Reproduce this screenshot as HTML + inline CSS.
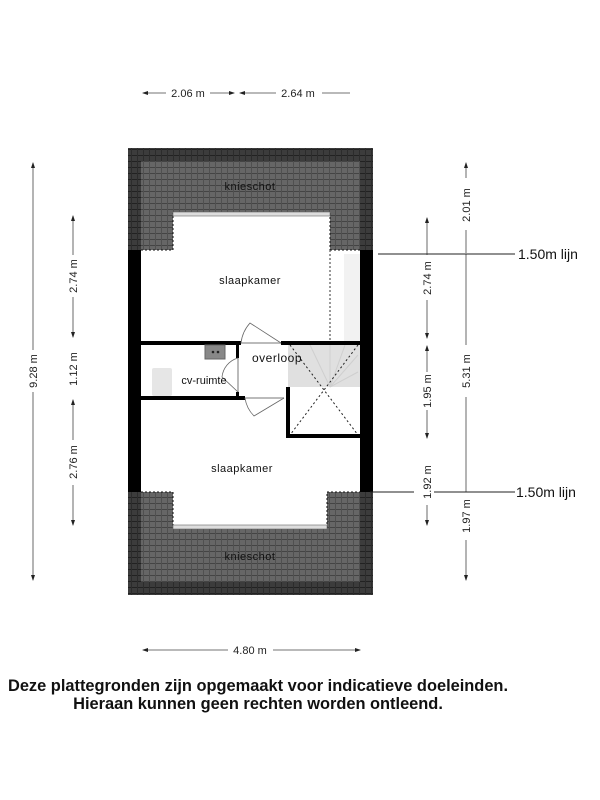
<!DOCTYPE html>
<html><head><meta charset="utf-8"><style>
html,body{margin:0;padding:0;background:#fff;width:600px;height:800px;overflow:hidden}
svg{display:block}
text{font-family:"Liberation Sans",sans-serif}
</style></head><body>
<svg width="600" height="800" viewBox="0 0 600 800" xmlns="http://www.w3.org/2000/svg">
<defs>
<pattern id="tile" width="6" height="6" patternUnits="userSpaceOnUse">
<rect width="6" height="6" fill="#666"/>
<rect x="0" y="5" width="6" height="1" fill="#444"/>
<rect x="5" y="0" width="1" height="6" fill="#505050"/>
</pattern>
<pattern id="tiled" width="6" height="6" patternUnits="userSpaceOnUse">
<rect width="6" height="6" fill="#3c3c3c"/>
<rect x="0" y="5" width="6" height="1" fill="#222"/>
<rect x="5" y="0" width="1" height="6" fill="#2c2c2c"/>
</pattern>
<marker id="ar" markerWidth="6" markerHeight="6" refX="5" refY="3" orient="auto-start-reverse" markerUnits="userSpaceOnUse">
<path d="M0,1 L6,3 L0,5 z" fill="#222"/>
</marker>
</defs>

<path d="M128,148 H373 V250 H330 V213 H173 V250 H128 Z" fill="url(#tiled)"/>
<path d="M141,161 H360 V250 H330 V213 H173 V250 H141 Z" fill="url(#tile)"/>
<path d="M128,492 H173 V528 H327 V492 H373 V595 H128 Z" fill="url(#tiled)"/>
<path d="M141,492 H173 V528 H327 V492 H360 V582 H141 Z" fill="url(#tile)"/>
<path d="M173,250 V213 M330,213 V250 M141,250 H173 M330,250 H360 M173,492 V528 M327,528 V492 M141,492 H173 M327,492 H360" stroke="#111" stroke-width="1" stroke-dasharray="2,2" fill="none"/>
<rect x="173" y="212" width="157" height="4" fill="#ddd" stroke="#666" stroke-width="0.6"/>
<rect x="173" y="525" width="154" height="4" fill="#ddd" stroke="#666" stroke-width="0.6"/>

<rect x="128" y="250" width="13" height="242" fill="#000"/>
<rect x="360" y="250" width="13" height="242" fill="#000"/>
<rect x="344" y="254" width="16" height="88" fill="#f2f2f2"/>
<line x1="330" y1="250" x2="330" y2="341" stroke="#333" stroke-dasharray="2,2"/>

<rect x="288" y="345" width="72" height="42" fill="#e0e0e0"/>
<path d="M330,387 L310,345 M330,387 L330,345 M330,387 L345,345 M330,387 L358,355 M330,387 L358,372" stroke="#cfcfcf" stroke-width="1"/>
<path d="M290,345 L358,435 M358,345 L290,435" stroke="#222" stroke-dasharray="2,2.5" stroke-width="1"/>

<rect x="140" y="341" width="101" height="4" fill="#000"/>
<rect x="281" y="341" width="79" height="4" fill="#000"/>
<rect x="236" y="345" width="3" height="13" fill="#000"/>
<rect x="236" y="392" width="3" height="6" fill="#000"/>
<rect x="140" y="396" width="105" height="4" fill="#000"/>
<rect x="286" y="387" width="4" height="51" fill="#000"/>
<rect x="286" y="434" width="74" height="4" fill="#000"/>

<rect x="241" y="342" width="40" height="2" fill="#bbb"/>
<rect x="237" y="358" width="2" height="34" fill="#bbb"/>
<rect x="245" y="397" width="39" height="2" fill="#bbb"/>
<path d="M281,343 L250,323 A36,36 0 0 0 241,343" fill="none" stroke="#666" stroke-width="0.8"/>
<path d="M238,392 L222,377 A22,22 0 0 1 238,358" fill="none" stroke="#666" stroke-width="0.8"/>
<path d="M284,398 L254,416 A32,32 0 0 1 245,398" fill="none" stroke="#666" stroke-width="0.8"/>

<rect x="205" y="345" width="20" height="14" fill="#888" stroke="#666"/>
<circle cx="213" cy="352" r="1.3" fill="#222"/><circle cx="218" cy="352" r="1.3" fill="#222"/>
<rect x="152" y="368" width="20" height="28" rx="2" fill="#e6e6e6"/>

<text x="250" y="190" font-size="11" text-anchor="middle" fill="#111" letter-spacing="0.5">knieschot</text>
<text x="250" y="560" font-size="11" text-anchor="middle" fill="#111" letter-spacing="0.5">knieschot</text>
<text x="250" y="284" font-size="11" text-anchor="middle" fill="#111" letter-spacing="0.5">slaapkamer</text>
<text x="242" y="472" font-size="11" text-anchor="middle" fill="#111" letter-spacing="0.5">slaapkamer</text>
<text x="277" y="362" font-size="12" text-anchor="middle" fill="#111" letter-spacing="0.5">overloop</text>
<text x="204" y="384" font-size="11" text-anchor="middle" fill="#111">cv-ruimte</text>

<g stroke="#444" stroke-width="0.8" fill="none">
<line x1="143" y1="93" x2="166" y2="93" marker-start="url(#ar)"/>
<line x1="210" y1="93" x2="234" y2="93" marker-end="url(#ar)"/>
<line x1="240" y1="93" x2="276" y2="93" marker-start="url(#ar)"/>
<line x1="322" y1="93" x2="350" y2="93"/>
<line x1="143" y1="650" x2="228" y2="650" marker-start="url(#ar)"/>
<line x1="273" y1="650" x2="360" y2="650" marker-end="url(#ar)"/>
<line x1="33" y1="163" x2="33" y2="350" marker-start="url(#ar)"/>
<line x1="33" y1="392" x2="33" y2="580" marker-end="url(#ar)"/>
<line x1="73" y1="216" x2="73" y2="255" marker-start="url(#ar)"/>
<line x1="73" y1="297" x2="73" y2="337" marker-end="url(#ar)"/>
<line x1="73" y1="400" x2="73" y2="440" marker-start="url(#ar)"/>
<line x1="73" y1="485" x2="73" y2="525" marker-end="url(#ar)"/>
<line x1="427" y1="218" x2="427" y2="255"  marker-start="url(#ar)"/>
<line x1="427" y1="300" x2="427" y2="338" marker-end="url(#ar)"/>
<line x1="427" y1="346" x2="427" y2="372" marker-start="url(#ar)"/>
<line x1="427" y1="410" x2="427" y2="438" marker-end="url(#ar)"/>
<line x1="427" y1="505" x2="427" y2="525" marker-end="url(#ar)"/>
<line x1="466" y1="163" x2="466" y2="178" marker-start="url(#ar)"/>
<line x1="466" y1="230" x2="466" y2="253"/>
<line x1="466" y1="254" x2="466" y2="345"/>
<line x1="466" y1="397" x2="466" y2="492"/>
<line x1="466" y1="540" x2="466" y2="580" marker-end="url(#ar)"/>
</g>
<g stroke="#222" stroke-width="1">
<line x1="378" y1="254" x2="515" y2="254"/>
<line x1="370" y1="492" x2="414" y2="492"/>
<line x1="434" y1="492" x2="515" y2="492"/>
</g>
<g font-size="11" fill="#222" text-anchor="middle">
<text x="188" y="97">2.06 m</text>
<text x="298" y="97">2.64 m</text>
<text x="250" y="654">4.80 m</text>
<text transform="translate(37,371) rotate(-90)">9.28 m</text>
<text transform="translate(77,276) rotate(-90)">2.74 m</text>
<text transform="translate(77,369) rotate(-90)">1.12 m</text>
<text transform="translate(77,462) rotate(-90)">2.76 m</text>
<text transform="translate(431,278) rotate(-90)">2.74 m</text>
<text transform="translate(431,391) rotate(-90)">1.95 m</text>
<text transform="translate(431,482) rotate(-90)">1.92 m</text>
<text transform="translate(470,205) rotate(-90)">2.01 m</text>
<text transform="translate(470,371) rotate(-90)">5.31 m</text>
<text transform="translate(470,516) rotate(-90)">1.97 m</text>
</g>
<text x="518" y="259" font-size="14" fill="#111">1.50m lijn</text>
<text x="516" y="497" font-size="14" fill="#111">1.50m lijn</text>

<text x="258" y="691" font-size="16.4" font-weight="bold" text-anchor="middle" fill="#111">Deze plattegronden zijn opgemaakt voor indicatieve doeleinden.</text>
<text x="258" y="709" font-size="16.4" font-weight="bold" text-anchor="middle" fill="#111">Hieraan kunnen geen rechten worden ontleend.</text>
</svg>
</body></html>
